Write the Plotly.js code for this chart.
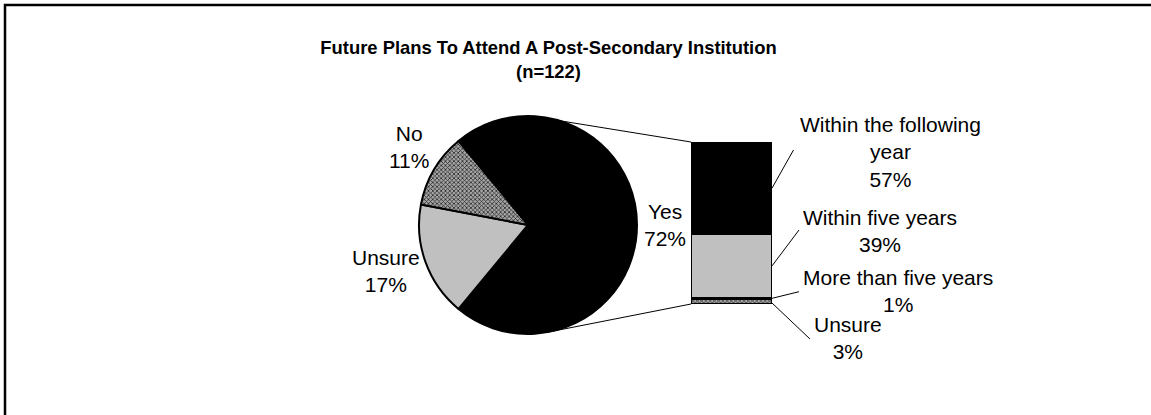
<!DOCTYPE html>
<html>
<head>
<meta charset="utf-8">
<script src="https://cdn.plot.ly/plotly-3.0.1.min.js"></script>
<style>html,body{margin:0;padding:0;background:#fff;overflow:hidden;}#chart{position:absolute;left:0;top:0;width:1151px;height:415px;}</style>
</head>
<body>
<div id="chart"></div>
<script>
// ---- data ----
const pieLabels = ['Yes', 'Unsure', 'No'];
const pieValues = [72, 17, 11];
const barLabels = ['Unsure', 'More than five years', 'Within five years', 'Within the following year'];
const barValues = [3, 1, 39, 57];
const barLabelText = ['Unsure', 'More than five years', 'Within five years', 'Within the following<br>year'];
const titleText = 'Future Plans To Attend A Post-Secondary Institution';
const subtitleText = '(n=122)';

// ---- layout helpers ----
const W = 1151, H = 415;
const px = x => x / W;
const py = y => 1 - y / H;
const FONT = 'Liberation Sans, Arial, sans-serif';

const pieC = {x: 528, y: 225, r: 109};
const bar = {left: 691, right: 772, top: 142, bottom: 304};

const pieColors = ['#000000', '#c0c0c0', '#808080'];
const piePattern = ['', '', 'x'];
const barColors = ['#808080', '#000000', '#c0c0c0', '#000000'];
const barPattern = ['x', '', '', ''];
const hatch = {fgcolor: '#262626', bgcolor: '#a6a6a6', size: 3, solidity: 0.45};

const traces = [];
traces.push({
  type: 'pie',
  labels: pieLabels,
  values: pieValues,
  sort: false,
  direction: 'clockwise',
  rotation: -39.6,
  textinfo: 'none',
  hoverinfo: 'skip',
  domain: {x: [px(pieC.x - pieC.r), px(pieC.x + pieC.r)], y: [py(pieC.y + pieC.r), py(pieC.y - pieC.r)]},
  marker: {
    colors: pieColors,
    line: {color: '#000', width: 2},
    pattern: Object.assign({shape: piePattern}, hatch)
  }
});
barValues.forEach((v, i) => {
  traces.push({
    type: 'bar',
    x: [0], y: [v],
    name: barLabels[i],
    width: 1,
    hoverinfo: 'skip',
    marker: {
      color: barColors[i],
      line: {color: '#000', width: 1.5},
      pattern: Object.assign({shape: barPattern[i]}, hatch)
    }
  });
});

// pie labels
const pieLabelPos = [[665, 225], [386, 271], [409, 147]];
const annotations = [];
pieLabels.forEach((l, i) => {
  annotations.push({
    xref: 'paper', yref: 'paper', x: px(pieLabelPos[i][0]), y: py(pieLabelPos[i][1]),
    xanchor: 'center', yanchor: 'middle', showarrow: false,
    text: l + '<br>' + pieValues[i] + '%',
    font: {family: FONT, size: 21, color: '#000'}
  });
});
// bar labels
const barLabelPos = [[848, 338], [898, 291], [880, 231], [890, 152]];
const leaderEnd = [[810, 339], [799, 291.7], [799, 230], [793.5, 150]];
barLabels.forEach((l, i) => {
  annotations.push({
    xref: 'paper', yref: 'paper', x: px(barLabelPos[i][0]), y: py(barLabelPos[i][1]),
    xanchor: 'center', yanchor: 'middle', showarrow: false,
    text: barLabelText[i] + '<br>' + barValues[i] + '%',
    font: {family: FONT, size: 21, color: '#000'}
  });
});

// shapes
const total = barValues.reduce((a, b) => a + b, 0);
const barY = v => bar.bottom - (v / total) * (bar.bottom - bar.top);
const shapes = [];
let cum = 0;
barValues.forEach((v, i) => {
  let yStart = i === 0 ? bar.bottom - 1 : barY(cum + v / 2);
  shapes.push({type: 'line', xref: 'paper', yref: 'paper',
    x0: px(bar.right), y0: py(yStart), x1: px(leaderEnd[i][0]), y1: py(leaderEnd[i][1]),
    line: {color: '#000', width: 1}});
  cum += v;
});
// connectors pie -> bar
const piePt = a => [pieC.x + pieC.r * Math.sin(a * Math.PI / 180), pieC.y - pieC.r * Math.cos(a * Math.PI / 180)];
const pt1 = piePt(17), pt2 = piePt(170);
shapes.push({type: 'line', xref: 'paper', yref: 'paper', x0: px(pt1[0]), y0: py(pt1[1]), x1: px(bar.left), y1: py(bar.top), line: {color: '#000', width: 1}});
shapes.push({type: 'line', xref: 'paper', yref: 'paper', x0: px(pt2[0]), y0: py(pt2[1]), x1: px(bar.left), y1: py(bar.bottom), line: {color: '#000', width: 1}});
// frame (top and left visible only)
shapes.push({type: 'path', xref: 'paper', yref: 'paper',
  path: 'M ' + px(5) + ' 0 L ' + px(5) + ' ' + py(5) + ' L 1 ' + py(5),
  line: {color: '#000', width: 2.5}});

const layout = {
  width: W, height: H,
  margin: {l: 0, r: 0, t: 0, b: 0},
  paper_bgcolor: '#fff', plot_bgcolor: 'rgba(0,0,0,0)',
  showlegend: false,
  hovermode: false,
  barmode: 'stack',
  title: {
    text: '<b>' + titleText + '<br>' + subtitleText + '</b>',
    x: px(548.5), xanchor: 'center', xref: 'container',
    y: py(54), yanchor: 'middle', yref: 'container',
    font: {family: FONT, size: 18.4, color: '#000'}
  },
  xaxis: {domain: [px(bar.left), px(bar.right)], range: [-0.5, 0.5], visible: false, fixedrange: true},
  yaxis: {domain: [py(bar.bottom), py(bar.top)], range: [0, total], visible: false, fixedrange: true},
  annotations: annotations,
  shapes: shapes
};

Plotly.newPlot('chart', traces, layout, {displayModeBar: false, staticPlot: true});
</script>
</body>
</html>
